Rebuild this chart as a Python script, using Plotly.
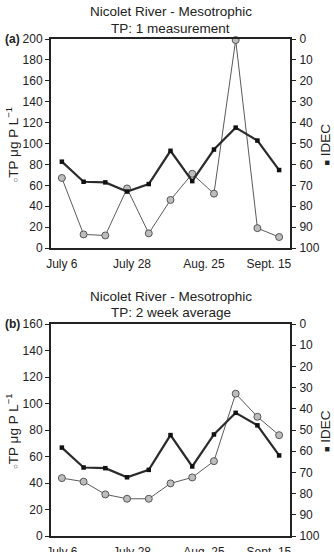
import plotly.graph_objects as go

# ---- data ----
sample_week = [1, 2, 3, 4, 5, 6, 7, 8, 9, 10, 11]
date_labels = ["July 6", "July 28", "Aug. 25", "Sept. 15"]
date_label_pos = [1.0, 4.23, 7.54, 10.53]

tp_single = [67, 13, 12, 57, 14, 46, 71, 52, 199, 19, 10.5]
idec_a = [58.7, 68.3, 68.6, 73, 69.4, 53.5, 68, 52.9, 42.4, 48.6, 62.7]

tp_avg = [43.7, 41, 31.4, 28.1, 28.1, 39.7, 44.2, 56.5, 107.4, 90, 76.1]
idec_b = [58.3, 67.7, 68, 72.3, 68.8, 52.4, 67.2, 52.1, 41.9, 47.8, 62]

titles = [["Nicolet River - Mesotrophic", "TP: 1 measurement"],
          ["Nicolet River - Mesotrophic", "TP: 2 week average"]]
panel_tags = ["(a)", "(b)"]
tp_ranges = [[0, 200], [0, 160]]

W, H = 334, 552
FONT = "Liberation Sans, Arial, sans-serif"
TXT = "#222222"

def py(px):
    return 1 - px / H

xdom = [51 / W, 290 / W]
ydoms = [[py(248), py(39)], [py(536), py(324)]]

fig = go.Figure()
layout = dict(
    width=W, height=H, margin=dict(l=0, r=0, t=0, b=0),
    paper_bgcolor="white", plot_bgcolor="white", showlegend=False,
    font=dict(family=FONT, size=12, color=TXT),
)

panels = [(tp_single, idec_a), (tp_avg, idec_b)]
annotations = []
xr = [0.5, 11.5]
for i, (tp, idec) in enumerate(panels):
    n = 8 * i  # axis numbering offset
    yr = f"y{2+n}"
    xm_k = "xaxis" if n == 0 else f"xaxis{1+n}"
    yl_k = "yaxis" if n == 0 else f"yaxis{1+n}"
    yr_k = f"yaxis{2+n}"
    xref_main = "x" if n == 0 else f"x{1+n}"
    yref_main = "y" if n == 0 else f"y{1+n}"

    fig.add_trace(go.Scatter(
        x=sample_week, y=tp, xaxis=xref_main, yaxis=yref_main, mode="lines+markers",
        line=dict(color="#5a5a5a", width=1),
        marker=dict(symbol="circle", size=7, color="#bdbdbd",
                    line=dict(color="#555555", width=1)),
        cliponaxis=False))
    fig.add_trace(go.Scatter(
        x=sample_week, y=idec, xaxis=xref_main, yaxis=yr, mode="lines+markers",
        line=dict(color="#2b2b2b", width=2.2),
        marker=dict(symbol="square", size=4.5, color="#111111"),
        cliponaxis=False))

    # main x axis: date labels, invisible ticks
    layout[xm_k] = dict(domain=xdom, range=xr, anchor=yref_main,
                        tickmode="array", tickvals=date_label_pos, ticktext=date_labels,
                        ticks="outside", ticklen=4, tickcolor="rgba(0,0,0,0)",
                        showline=True, linecolor="#222", linewidth=2, mirror=True,
                        showgrid=False, zeroline=False, automargin=False,
                        tickfont=dict(size=12, color=TXT))
    # left y axis
    layout[yl_k] = dict(domain=ydoms[i], range=tp_ranges[i], anchor=xref_main,
                        tickmode="linear", tick0=0, dtick=20,
                        ticks="outside", ticklen=4, tickwidth=1, tickcolor="#222",
                        showline=True, linecolor="#222", linewidth=2,
                        showgrid=False, zeroline=False, automargin=False,
                        tickfont=dict(size=12, color=TXT))
    # right y axis (IDEC, reversed)
    layout[yr_k] = dict(range=[100, 0], overlaying=yref_main, side="right", anchor=xref_main,
                        tickmode="linear", tick0=0, dtick=10,
                        ticks="outside", ticklen=4, tickwidth=1, tickcolor="#222",
                        showline=True, linecolor="#222", linewidth=2,
                        showgrid=False, zeroline=False, automargin=False,
                        ticklabelstandoff=1,
                        tickfont=dict(size=12, color=TXT))
    # tick overlays: x outside / inside
    for k, side in ((3, "outside"), (4, "inside")):
        layout[f"xaxis{k+n}"] = dict(range=xr, overlaying=xref_main, anchor=yref_main,
                                     tickmode="linear", tick0=0.5, dtick=1,
                                     ticks=side, ticklen=4, tickwidth=1, tickcolor="#222",
                                     showticklabels=False, showline=False,
                                     showgrid=False, zeroline=False, automargin=False)
    layout[f"yaxis{3+n}"] = dict(range=tp_ranges[i], overlaying=yref_main, anchor=xref_main,
                                 side="left", tickmode="linear", tick0=0, dtick=20,
                                 ticks="inside", ticklen=4, tickwidth=1, tickcolor="#222",
                                 showticklabels=False, showline=False,
                                 showgrid=False, zeroline=False, automargin=False)
    layout[f"yaxis{4+n}"] = dict(range=[100, 0], overlaying=yref_main, anchor=xref_main,
                                 side="right", tickmode="linear", tick0=0, dtick=10,
                                 ticks="inside", ticklen=4, tickwidth=1, tickcolor="#222",
                                 showticklabels=False, showline=False,
                                 showgrid=False, zeroline=False, automargin=False)

    top_px = 39 if i == 0 else 324
    bot_px = 248 if i == 0 else 536
    mid_px = (top_px + bot_px) / 2
    t1 = 12 if i == 0 else 296
    annotations += [
        dict(text=titles[i][0], x=(xdom[0] + xdom[1]) / 2, y=py(t1), xref="paper", yref="paper",
             showarrow=False, xanchor="center", yanchor="middle",
             font=dict(size=13.5, color=TXT)),
        dict(text=titles[i][1], x=(xdom[0] + xdom[1]) / 2, y=py(t1 + 16), xref="paper", yref="paper",
             showarrow=False, xanchor="center", yanchor="middle",
             font=dict(size=13.5, color=TXT)),
        dict(text="<b>" + panel_tags[i] + "</b>", x=3 / W, y=py(top_px), xref="paper", yref="paper",
             showarrow=False, xanchor="left", yanchor="middle",
             font=dict(size=12, color=TXT)),
        dict(text="<span style='font-size:8px'>○</span>TP μg P L<sup>−1</sup>",
             x=12 / W, y=py(mid_px + 2), xref="paper", yref="paper", textangle=-90,
             showarrow=False, xanchor="center", yanchor="middle",
             font=dict(size=13.5, color=TXT)),
        dict(text="<span style='font-size:9px'>■</span> IDEC",
             x=325 / W, y=py(mid_px + 1), xref="paper", yref="paper", textangle=-90,
             showarrow=False, xanchor="center", yanchor="middle",
             font=dict(size=13.5, color=TXT)),
    ]

layout["annotations"] = annotations
fig.update_layout(**layout)
fig.write_html("out.html")
